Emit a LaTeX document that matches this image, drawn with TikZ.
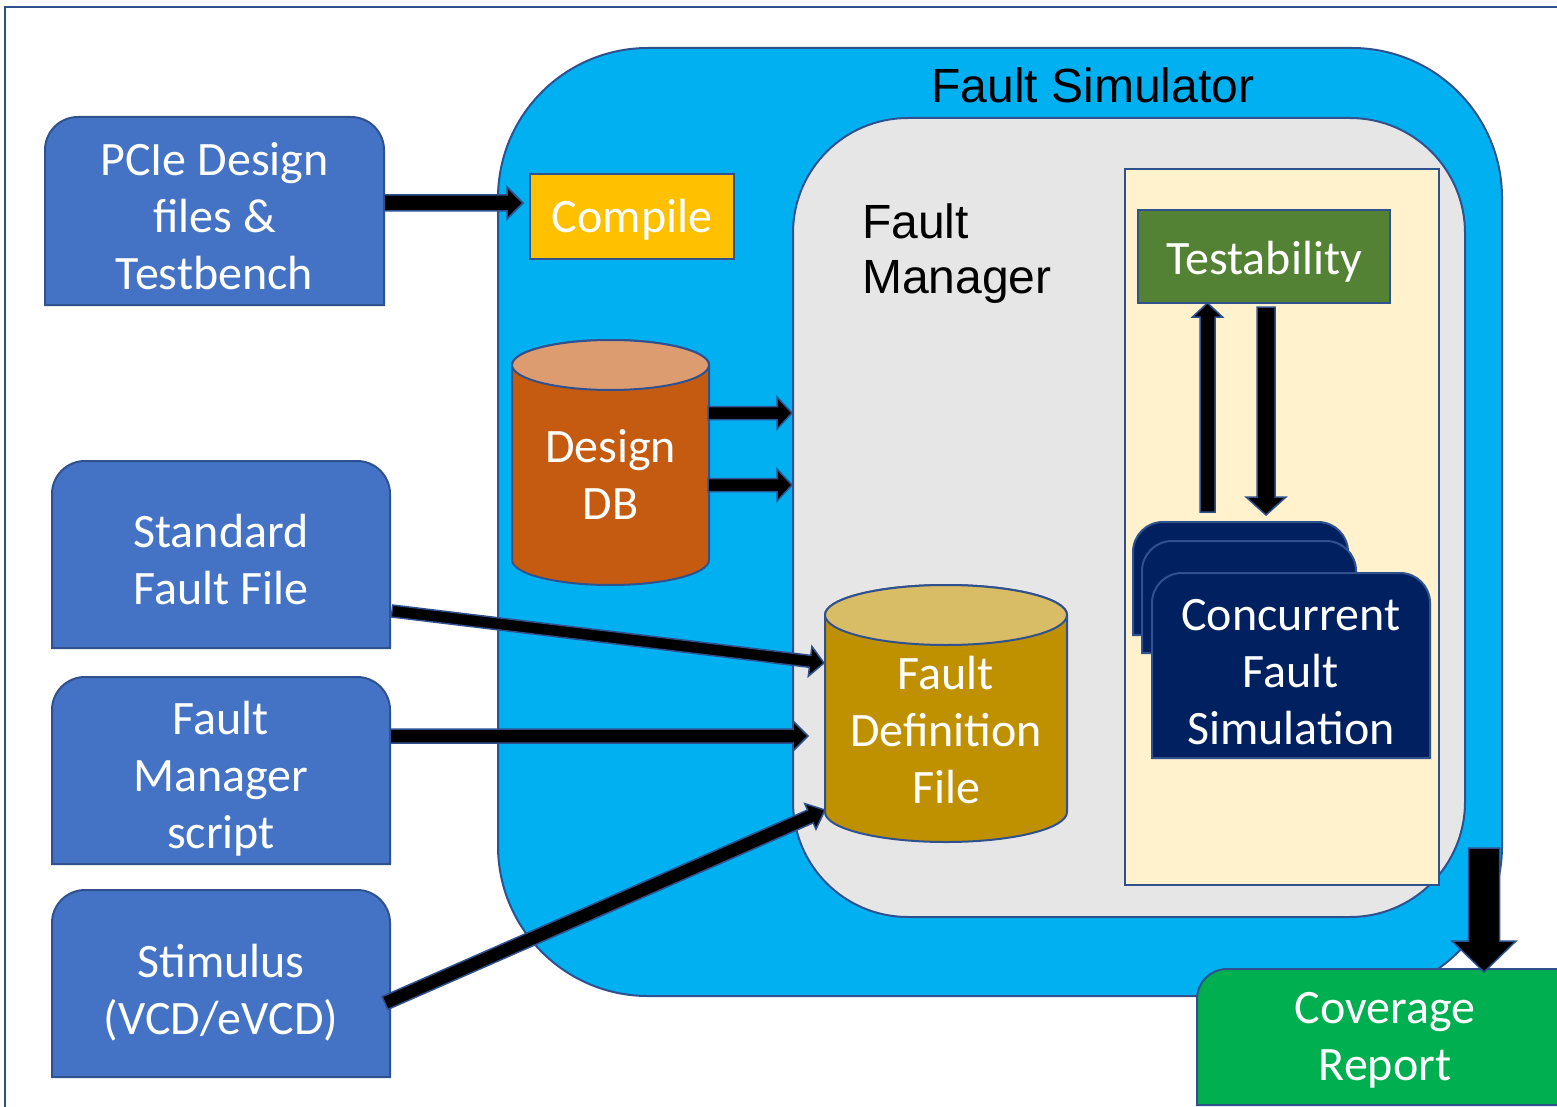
\documentclass[tikz,border=0pt]{standalone}
\usepackage{fontspec}
\setmainfont{Carlito}
\newfontfamily\arialfont{Liberation Sans}
\usetikzlibrary{calc,backgrounds}

\definecolor{edge}{HTML}{2F528F}
\definecolor{inblue}{HTML}{4472C4}
\definecolor{simblue}{HTML}{00B0F0}
\definecolor{mgrgrey}{HTML}{E7E6E6}
\definecolor{cream}{HTML}{FFF2CC}
\definecolor{testgreen}{HTML}{548235}
\definecolor{navy}{HTML}{002060}
\definecolor{amber}{HTML}{FFC000}
\definecolor{rust}{HTML}{C55A11}
\definecolor{rusttop}{HTML}{DD9B70}
\definecolor{gold}{HTML}{BF9000}
\definecolor{goldtop}{HTML}{D8BC66}
\definecolor{covgreen}{HTML}{00B050}

% rectangle with rounded top corners and a square bottom
\newcommand\topround[3]{%
  \draw[shape line,fill=#3] (#1.south west) -- ([yshift=-#2]#1.north west)
    arc[start angle=180,end angle=90,radius=#2] -- ([xshift=-#2]#1.north east)
    arc[start angle=90,end angle=0,radius=#2] -- (#1.south east) -- cycle;}

% database drum: node, x radius, y radius, body fill, lid fill
\newcommand\drum[5]{%
  \draw[shape line,fill=#4] ([yshift=-#3]#1.north west) -- ([yshift=#3]#1.south west)
    arc[start angle=180,end angle=360,x radius=#2,y radius=#3] -- ([yshift=-#3]#1.north east)
    arc[start angle=0,end angle=180,x radius=#2,y radius=#3] -- cycle;
  \draw[shape line,fill=#5] ([yshift=-#3]#1.north) ellipse[x radius=#2,y radius=#3];}

% block arrow: tail, tip, half shaft width, half head width, head length
\newcommand\blockarrow[5]{%
  \coordinate (neck) at ($(#2)!#5!(#1)$);
  \draw[arrow body] ($(#1)!#3!90:(#2)$) -- ($(neck)!#3!90:(#2)$)
    -- ($(neck)!#4!90:(#2)$) -- (#2) -- ($(neck)!#4!-90:(#2)$)
    -- ($(neck)!#3!-90:(#2)$) -- ($(#1)!#3!-90:(#2)$) -- cycle;}

\begin{document}
\begin{tikzpicture}[x=1pt,y=-1pt,
  area/.style={inner sep=0pt,outer sep=0pt},
  shape line/.style={draw=edge,line width=2pt},
  arrow body/.style={fill=black,draw=edge,line width=1.5pt,line join=miter},
  wt/.style={text=white,align=center,inner sep=0pt,font=\fontsize{48}{57}\selectfont},
  dark text/.style={text=black,inner sep=0pt,font=\arialfont\fontsize{48}{55}\selectfont}]
\useasboundingbox (0,0) rectangle (1557,1107);

% block geometry
\node[area,minimum width=1004pt,minimum height=948pt] (fsim) at (1000,522) {};
\node[area,minimum width=672pt,minimum height=799pt] (fmgr) at (1129,517.5) {};
\node[area,minimum width=314pt,minimum height=716pt] (cream) at (1282,527) {};
\node[area,minimum width=252pt,minimum height=93pt] (test) at (1264,256.5) {};
\node[area,minimum width=215pt,minimum height=113pt] (cfsA) at (1240.5,578.5) {};
\node[area,minimum width=214pt,minimum height=112pt] (cfsB) at (1249,597) {};
\node[area,minimum width=278pt,minimum height=185pt] (cfs) at (1291,665.5) {};
\node[area,minimum width=204pt,minimum height=85pt] (compile) at (632,216.5) {};
\node[area,minimum width=197pt,minimum height=245pt] (ddb) at (610.5,462.5) {};
\node[area,minimum width=242pt,minimum height=257pt] (fdf) at (946,713.5) {};
\node[area,minimum width=339pt,minimum height=188pt] (pcie) at (214.5,211) {};
\node[area,minimum width=338pt,minimum height=187pt] (stdff) at (221,554.5) {};
\node[area,minimum width=338pt,minimum height=187pt] (fms) at (221,770.5) {};
\node[area,minimum width=338pt,minimum height=187pt] (stim) at (221,983.5) {};
\node[area,minimum width=403pt,minimum height=136pt] (cov) at (1398.5,1037) {};

% fills and outlines
\begin{scope}[on background layer]
  \draw[edge,line width=2pt] (5,7) rectangle (1570,1120);
  \draw[shape line,fill=simblue,rounded corners=150pt] (fsim.south west) rectangle (fsim.north east);
  \draw[shape line,fill=mgrgrey,rounded corners=115pt] (fmgr.south west) rectangle (fmgr.north east);
  \draw[shape line,fill=cream] (cream.south west) rectangle (cream.north east);
  \draw[shape line,fill=testgreen] (test.south west) rectangle (test.north east);
  \topround{cfsA}{30pt}{navy}
  \topround{cfsB}{30pt}{navy}
  \topround{cfs}{30pt}{navy}
  \draw[shape line,fill=amber] (compile.south west) rectangle (compile.north east);
  \drum{ddb}{98.5pt}{25pt}{rust}{rusttop}
  \drum{fdf}{121pt}{30pt}{gold}{goldtop}
  \topround{pcie}{33pt}{inblue}
  \topround{stdff}{33pt}{inblue}
  \topround{fms}{33pt}{inblue}
  \topround{stim}{33pt}{inblue}
  \topround{cov}{30pt}{covgreen}
\end{scope}

% texts
\node[dark text,anchor=base] (fsim-t) at (1093,103) {Fault Simulator};
\node[dark text,anchor=west,align=left] (fmgr-t) at (862,255.5) {\strut Fault\\\strut Manager};
\node[wt] (test-t) at ([yshift=-6.5pt]test.center) {\strut Testability};
\node[wt] (cfs-t) at ([yshift=-11pt]cfs.center) {\strut Concurrent\\\strut Fault\\\strut Simulation};
\node[wt] (compile-t) at ([yshift=-5pt]compile.center) {\strut Compile};
\node[wt] (ddb-t) at ([yshift=-17.5pt]ddb.center) {\strut Design\\\strut DB};
\node[wt] (fdf-t) at ([yshift=-21.5pt]fdf.center) {\strut Fault\\\strut Definition\\\strut File};
\node[wt] (pcie-t) at ([yshift=-10.5pt]pcie.center) {\strut PCIe Design\\\strut files \&\\\strut Testbench};
\node[wt] (stdff-t) at ([yshift=-10.5pt]stdff.center) {\strut Standard\\\strut Fault File};
\node[wt] (fms-t) at ([yshift=-9.5pt]fms.center) {\strut Fault\\\strut Manager\\\strut script};
\node[wt] (stim-t) at ([yshift=-11pt]stim.center) {\strut Stimulus\\\strut (VCD/eVCD)};
\node[wt] (cov-t) at ([xshift=-13.5pt,yshift=-3.5pt]cov.center) {\strut Coverage\\\strut Report};

% connector end points
\coordinate (pa) at ([yshift=8pt]pcie.east);
\coordinate (pb) at ($(compile.west |- pa)+(-7,0)$);
\coordinate (da1) at ($(ddb.east)+(-1,-49.5)$);
\coordinate (db1) at ($(fmgr.west |- da1)+(-1,0)$);
\coordinate (da2) at ($(ddb.east)+(-1,22.5)$);
\coordinate (db2) at ($(fmgr.west |- da2)+(-1,0)$);
\coordinate (sa) at ($(stdff.east)+(2,56.5)$);
\coordinate (sb) at ($(fdf.west)+(-1,-50.5)$);
\coordinate (ma) at ($(fms.east)+(0,-34.5)$);
\coordinate (mb) at ($(fdf.west |- ma)+(-17,0)$);
\coordinate (va) at ($(stim.east)+(-5,19.5)$);
\coordinate (vb) at ($(fdf.west)+(0,96.5)$);
\coordinate (ua) at ($(cfsA.north)+(-33,-10)$);
\coordinate (ub) at ($(test.south)+(-56.5,0)$);
\coordinate (wa) at ($(test.south)+(2,4)$);
\coordinate (wb) at ($(cfsA.north)+(25.5,-7)$);
\coordinate (ra) at ($(fsim.south east)+(-18,-148)$);
\coordinate (rb) at ($(cov.north)+(85.5,3)$);

% connectors
\blockarrow{pa}{pb}{8pt}{16pt}{16pt}
\blockarrow{da1}{db1}{6.5pt}{16pt}{15pt}
\blockarrow{da2}{db2}{6.5pt}{16pt}{15pt}
\blockarrow{sa}{sb}{6pt}{15pt}{14pt}
\blockarrow{ma}{mb}{7pt}{15pt}{15pt}
\blockarrow{va}{vb}{7pt}{14pt}{16pt}
\blockarrow{ua}{ub}{7.5pt}{15pt}{14pt}
\blockarrow{wa}{wb}{9pt}{20pt}{18pt}
\blockarrow{ra}{rb}{15.5pt}{32pt}{31pt}
\end{tikzpicture}
\end{document}
